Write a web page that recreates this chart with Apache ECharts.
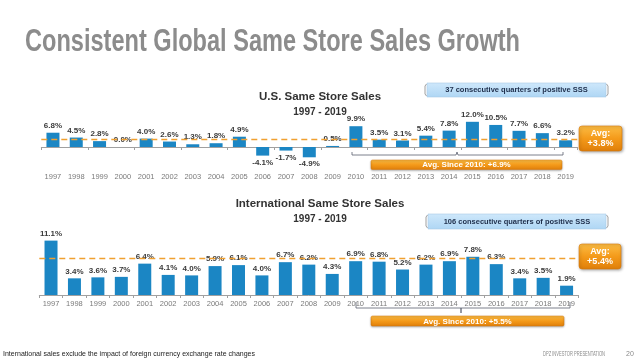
<!DOCTYPE html>
<html>
<head>
<meta charset="utf-8">
<script src="https://cdn.jsdelivr.net/npm/echarts@6/dist/echarts.min.js"></script>
<style>
html,body{margin:0;padding:0;background:#fff;}
#chart{width:640px;height:361px;}
</style>
</head>
<body>
<div id="chart"></div>
<script>
// ---- data ----
const years = ['1997','1998','1999','2000','2001','2002','2003','2004','2005','2006','2007','2008','2009','2010','2011','2012','2013','2014','2015','2016','2017','2018','2019'];
const usSSS = [6.8, 4.5, 2.8, 0.0, 4.0, 2.6, 1.3, 1.8, 4.9, -4.1, -1.7, -4.9, 0.5, 9.9, 3.5, 3.1, 5.4, 7.8, 12.0, 10.5, 7.7, 6.6, 3.2];
const intlSSS = [11.1, 3.4, 3.6, 3.7, 6.4, 4.1, 4.0, 5.9, 6.1, 4.0, 6.7, 6.2, 4.3, 6.9, 6.8, 5.2, 6.2, 6.9, 7.8, 6.3, 3.4, 3.5, 1.9];
const usAvg = 3.8;            // avg 1997-2019
const intlAvg = 5.4;          // avg 1997-2019
const intlAvgLineLevel = 7.6; // level at which the dashed line is drawn in the picture
const usAvgSince2010 = 6.9;
const intlAvgSince2010 = 5.5;
const mainTitle = 'Consistent Global Same Store Sales Growth';
const usTitle = 'U.S. Same Store Sales';
const intlTitle = 'International Same Store Sales';
const periodLabel = '1997 - 2019';
const usStreak = '37 consecutive quarters of positive SSS';
const intlStreak = '106 consecutive quarters of positive SSS';
const footnote = 'International sales exclude the impact of foreign currency exchange rate changes';
const footerRight = 'DPZ INVESTOR PRESENTATION';
const pageNum = '20';

// ---- helpers ----
const FONT = '"Liberation Sans", Arial, sans-serif';
const ctx = document.createElement('canvas').getContext('2d');
function fitScale(text, weight, size, targetW) {
  ctx.font = weight + ' ' + size + 'px ' + FONT;
  return targetW / ctx.measureText(text).width;
}
const BAR = '#1b86c4';
const ORANGE = '#f0a030';

function barData(vals) {
  return vals.map(v => ({
    value: v,
    label: { position: v < 0 ? 'bottom' : 'top' }
  }));
}
const barLabel = {
  show: true, distance: 3,
  formatter: p => p.value.toFixed(1) + '%',
  fontFamily: FONT, fontSize: 8, fontWeight: 'bold', color: '#3a3a3a'
};
const catLabel = { fontFamily: FONT, fontSize: 7.5, color: '#7a7a7a' };

function orangeFill() {
  return new echarts.graphic.LinearGradient(0, 0, 0, 1, [
    { offset: 0, color: '#fbbd45' }, { offset: 0.5, color: '#f49a1a' }, { offset: 1, color: '#e07f0a' }
  ]);
}
function blueFill() {
  return new echarts.graphic.LinearGradient(0, 0, 0, 1, [
    { offset: 0, color: '#cfe8fb' }, { offset: 1, color: '#aed6f4' }
  ]);
}
function streakBox(x, y, w, h, text) {
  return [
    { type: 'rect', shape: { x: x, y: y, width: w, height: h }, style: { fill: blueFill(), stroke: '#a7cbe6', lineWidth: 0.6 } },
    { type: 'polyline', shape: { points: [[x - 0.5, y + 1], [x - 2, y + 3], [x - 2, y + h - 3], [x - 0.5, y + h - 1]] }, style: { stroke: '#888', lineWidth: 0.8, fill: null } },
    { type: 'polyline', shape: { points: [[x + w + 0.5, y + 1], [x + w + 2, y + 3], [x + w + 2, y + h - 3], [x + w + 0.5, y + h - 1]] }, style: { stroke: '#888', lineWidth: 0.8, fill: null } },
    { type: 'text', x: x + w / 2, y: y + h / 2, style: { text: text, fontFamily: FONT, fontSize: 7.5, fontWeight: 'bold', fill: '#1d2d4a', align: 'center', verticalAlign: 'middle' } }
  ];
}
function avgBox(x, y, w, h, val) {
  return [
    { type: 'rect', shape: { x: x, y: y, width: w, height: h, r: 3 }, style: { fill: orangeFill(), stroke: '#d9780c', lineWidth: 0.6, shadowBlur: 3, shadowColor: 'rgba(0,0,0,0.35)', shadowOffsetX: 1, shadowOffsetY: 1 } },
    { type: 'text', x: x + w / 2, y: y + h / 2, style: { text: 'Avg:\n+' + val.toFixed(1) + '%', fontFamily: FONT, fontSize: 9, fontWeight: 'bold', lineHeight: 10.5, fill: '#fff', align: 'center', verticalAlign: 'middle' } }
  ];
}
function sinceBar(x, y, w, h, val) {
  return [
    { type: 'rect', shape: { x: x, y: y, width: w, height: h, r: 1.5 }, style: { fill: orangeFill(), stroke: '#d9780c', lineWidth: 0.5, shadowBlur: 2, shadowColor: 'rgba(0,0,0,0.3)', shadowOffsetY: 1 } },
    { type: 'text', x: x + w / 2, y: y + h / 2 + 0.5, style: { text: 'Avg. Since 2010: +' + val.toFixed(1) + '%', fontFamily: FONT, fontSize: 8, fontWeight: 'bold', fill: '#fff', align: 'center', verticalAlign: 'middle' } }
  ];
}

const titleScale = fitScale(mainTitle, 'bold', 32, 495);
const footScale = fitScale(footnote, 'normal', 7, 252);
const rightScale = fitScale(footerRight, 'normal', 7, 62);

const graphics = [
  { type: 'text', x: 25, y: 42, scaleX: titleScale, style: { text: mainTitle, fontFamily: FONT, fontSize: 32, fontWeight: 'bold', fill: '#8c8c8c', verticalAlign: 'middle' } },
  { type: 'text', x: 320, y: 97, style: { text: usTitle, fontFamily: FONT, fontSize: 11.5, fontWeight: 'bold', fill: '#333', align: 'center', verticalAlign: 'middle' } },
  { type: 'text', x: 320, y: 112, style: { text: periodLabel, fontFamily: FONT, fontSize: 10, fontWeight: 'bold', fill: '#333', align: 'center', verticalAlign: 'middle' } },
  { type: 'text', x: 320, y: 204, style: { text: intlTitle, fontFamily: FONT, fontSize: 11.5, fontWeight: 'bold', fill: '#333', align: 'center', verticalAlign: 'middle' } },
  { type: 'text', x: 320, y: 219, style: { text: periodLabel, fontFamily: FONT, fontSize: 10, fontWeight: 'bold', fill: '#333', align: 'center', verticalAlign: 'middle' } },
  // brackets
  { type: 'polyline', shape: { points: [[352, 152], [352, 155], [456, 155], [457, 152], [458, 155], [563, 155], [563, 152]] }, style: { stroke: '#5a6070', lineWidth: 0.8, fill: null } },
  { type: 'polyline', shape: { points: [[356, 302], [356, 308], [461, 308], [461, 313], [461, 308], [570, 308], [570, 302]] }, style: { stroke: '#5a6070', lineWidth: 0.8, fill: null } },
  ...streakBox(427, 83, 179, 14, usStreak),
  ...streakBox(428, 214, 178, 15, intlStreak),
  ...avgBox(579, 126, 43, 25, usAvg),
  ...avgBox(579, 244, 42, 25, intlAvg),
  ...sinceBar(371, 160, 191, 9.5, usAvgSince2010),
  ...sinceBar(371, 316, 193, 10, intlAvgSince2010),
  { type: 'text', x: 3, y: 354, scaleX: footScale, style: { text: footnote, fontFamily: FONT, fontSize: 7, fill: '#222', verticalAlign: 'middle' } },
  { type: 'text', x: 543, y: 354, scaleX: rightScale, style: { text: footerRight, fontFamily: FONT, fontSize: 7, fill: '#8a8a8a', verticalAlign: 'middle' } },
  { type: 'text', x: 630, y: 354, style: { text: pageNum, fontFamily: FONT, fontSize: 7, fill: '#8a8a8a', align: 'center', verticalAlign: 'middle' } }
];

const chart = echarts.init(document.getElementById('chart'), null, { renderer: 'canvas' });
chart.setOption({
  backgroundColor: '#fff',
  animation: false,
  grid: [
    { left: 41.3, top: 121.8, width: 536, height: 35.7 },
    { left: 39.3, top: 236.2, width: 539, height: 58.8 }
  ],
  xAxis: [
    { gridIndex: 0, type: 'category', data: years,
      axisLine: { onZero: true, lineStyle: { color: '#a0a0a0', width: 1 } },
      axisTick: { show: true, length: 3, lineStyle: { color: '#a0a0a0' } },
      axisLabel: { show: false } },
    { gridIndex: 0, type: 'category', data: years, position: 'bottom',
      axisLine: { show: false, onZero: false }, axisTick: { show: false },
      axisLabel: Object.assign({ margin: 15 }, catLabel) },
    { gridIndex: 1, type: 'category', data: years,
      axisLine: { lineStyle: { color: '#a0a0a0', width: 1 } },
      axisTick: { show: true, length: 3, lineStyle: { color: '#a0a0a0' } },
      axisLabel: Object.assign({ margin: 5 }, catLabel) }
  ],
  yAxis: [
    { gridIndex: 0, type: 'value', min: -5, max: 12, show: false, splitLine: { show: false } },
    { gridIndex: 1, type: 'value', min: 0, max: 12, show: false, splitLine: { show: false } }
  ],
  series: [
    { type: 'bar', xAxisIndex: 0, yAxisIndex: 0, data: barData(usSSS), barWidth: 13,
      itemStyle: { color: BAR }, label: barLabel,
      markLine: { silent: true, symbol: 'none', label: { show: false },
        lineStyle: { color: ORANGE, type: [6, 4], width: 1.3 },
        data: [{ yAxis: usAvg }] } },
    { type: 'bar', xAxisIndex: 2, yAxisIndex: 1, data: barData(intlSSS), barWidth: 13,
      itemStyle: { color: BAR }, label: barLabel,
      markLine: { silent: true, symbol: 'none', label: { show: false },
        lineStyle: { color: ORANGE, type: [6, 4], width: 1.3 },
        data: [{ yAxis: intlAvgLineLevel }] } }
  ],
  graphic: graphics
});
</script>
</body>
</html>
